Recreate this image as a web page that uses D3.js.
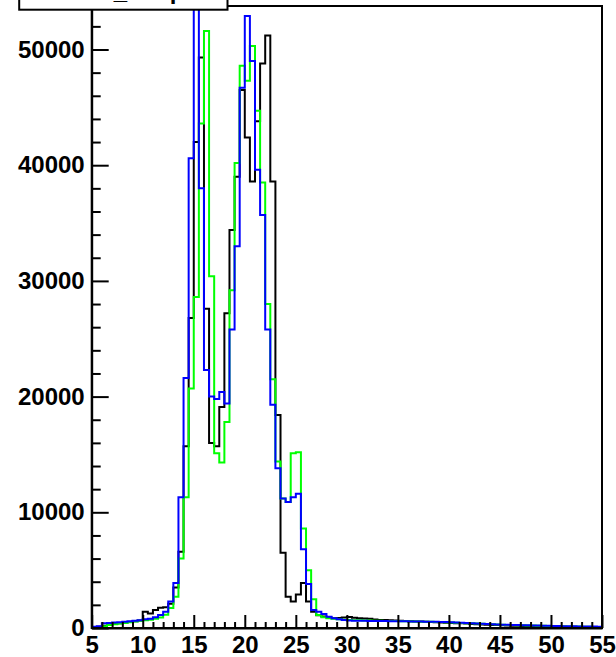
<!DOCTYPE html>
<html>
<head>
<meta charset="utf-8">
<script src="https://cdn.jsdelivr.net/npm/d3@7"></script>
<style>
  body { margin: 0; background: #fff; }
  svg { display: block; }
</style>
</head>
<body>
<svg id="chart" width="616" height="657"></svg>
<script>
// Histogram binning: 100 bins of 0.5 between 5 and 55
var xMin = 5, xMax = 55, binWidth = 0.5;

// Bin contents, one value per bin (5 - 55)
var blackCounts = [
  50, 100, 200, 280, 340, 400, 450, 520, 580, 640,               // 5 - 10
  1400, 1250, 1550, 1750, 1800, 2100, 3500, 6600, 15700, 26800,  // 10 - 15
  42000, 49300, 27600, 16000, 15700, 19100, 27200, 34400, 39000, 46500, // 15 - 20
  42400, 38600, 43800, 48800, 51200, 38600, 18400, 6500, 2700, 2300,   // 20 - 25
  2900, 3900, 2300, 1400, 1100, 1000, 900, 850, 860, 900,        // 25 - 30
  950, 880, 850, 820, 790, 740, 700, 690, 660, 640,              // 30 - 35
  620, 610, 590, 570, 560, 540, 520, 500, 480, 460,              // 35 - 40
  440, 420, 400, 380, 350, 330, 310, 290, 270, 250,              // 40 - 45
  230, 215, 200, 185, 170, 160, 150, 140, 130, 120,              // 45 - 50
  110, 105, 95, 90, 80, 75, 70, 65, 60, 55                       // 50 - 55
];

var greenCounts = [
  30, 80, 150, 250, 320, 380, 440, 500, 560, 620,
  680, 720, 800, 900, 1150, 1730, 2700, 6000, 11300, 20700,
  28600, 43600, 51600, 30400, 15100, 14300, 17800, 29200, 40200, 48600,
  47300, 50300, 44700, 38500, 28000, 21500, 14400, 11200, 10900, 15100,
  15200, 8600, 5000, 2480, 1120, 925, 840, 800, 760, 720,
  690, 670, 660, 650, 640, 630, 620, 615, 610, 600,
  590, 580, 570, 560, 550, 540, 530, 520, 510, 500,
  480, 460, 440, 420, 400, 380, 360, 340, 320, 300,
  280, 260, 250, 240, 230, 220, 210, 200, 190, 180,
  170, 160, 150, 140, 130, 120, 110, 100, 90, 80
];

var blueCounts = [
  100, 150, 400, 430, 470, 500, 540, 580, 620, 680,
  750, 800, 925, 1120, 1400, 2280, 3900, 11300, 21600, 40600,
  57000, 38000, 22300, 20000, 19800, 20400, 19400, 25800, 33000, 46700,
  52900, 49000, 39600, 35700, 25800, 19300, 13800, 11200, 10900, 11300,
  11600, 6800, 3800, 1560, 1400, 1210, 980, 840, 750, 690,
  640, 630, 625, 620, 610, 600, 610, 600, 590, 590,
  580, 575, 570, 560, 555, 550, 540, 530, 520, 510,
  490, 470, 450, 430, 410, 390, 370, 350, 330, 310,
  290, 280, 260, 250, 240, 230, 220, 210, 200, 190,
  180, 170, 160, 155, 150, 140, 130, 125, 120, 110
];

// Axis ticks and labels
var xMajorTicks = [5, 10, 15, 20, 25, 30, 35, 40, 45, 50, 55];
var yMajorTicks = [0, 10000, 20000, 30000, 40000, 50000];
var yMax = 53760;

var titleText = "Emiss_hadpt";

var svg = d3.select("#chart");
var font = "'Liberation Sans', Arial, Helvetica, sans-serif";

// Frame area (window.top is read-only, so use other names)
var frameLeft = 91.7, frameRight = 602, frameTop = 6, frameBottom = 628;

var x = d3.scaleLinear().domain([xMin, xMax]).range([frameLeft, frameRight]);
var y = d3.scaleLinear().domain([0, yMax]).range([frameBottom, frameTop]);

svg.append("rect").attr("width", 616).attr("height", 657).attr("fill", "#fff");

svg.append("defs").append("clipPath").attr("id", "frameClip")
  .append("rect")
  .attr("x", frameLeft).attr("y", frameTop)
  .attr("width", frameRight - frameLeft).attr("height", frameBottom - frameTop);

// Step line for one histogram
var binEdges = d3.range(xMin, xMax, binWidth);
var stepLine = d3.line()
  .x(function(d) { return x(d.edge); })
  .y(function(d) { return y(d.value); })
  .curve(d3.curveStepAfter);

function histPoints(counts) {
  var pts = [{edge: xMin, value: 0}];
  counts.forEach(function(v, i) { pts.push({edge: binEdges[i], value: v}); });
  pts.push({edge: xMax, value: counts[counts.length - 1]});
  return pts;
}

var series = [
  {name: "black", counts: blackCounts, color: "#000000"},
  {name: "green", counts: greenCounts, color: "#00ff00"},
  {name: "blue", counts: blueCounts, color: "#0000ff"}
];

svg.append("g")
  .attr("clip-path", "url(#frameClip)")
  .selectAll("path")
  .data(series)
  .enter()
  .append("path")
    .attr("d", function(d) { return stepLine(histPoints(d.counts)); })
    .attr("fill", "none")
    .attr("stroke", function(d) { return d.color; })
    .attr("stroke-width", 2);

// Frame (top and right sides)
svg.append("rect")
  .attr("x", frameLeft).attr("y", frameTop)
  .attr("width", frameRight - frameLeft).attr("height", frameBottom - frameTop)
  .attr("fill", "none")
  .attr("stroke", "#000")
  .attr("stroke-width", 2);

// Y axis: major and minor ticks pointing into the frame
var yMinorTicks = d3.range(0, yMax, 2000).filter(function(v) { return v % 10000 !== 0; });

svg.append("g")
  .attr("transform", "translate(" + frameLeft + ",0)")
  .call(d3.axisLeft(y).tickValues(yMinorTicks).tickSizeInner(-9).tickSizeOuter(0).tickFormat(""))
  .call(function(g) { g.select(".domain").remove(); });

var yAxis = svg.append("g")
  .attr("transform", "translate(" + frameLeft + ",0)")
  .call(d3.axisLeft(y).tickValues(yMajorTicks).tickSizeInner(-17).tickSizeOuter(0)
    .tickPadding(7).tickFormat(d3.format("d")));

// X axis: major every 5, minor every 1, ticks pointing up
var xMinorTicks = d3.range(xMin, xMax + 1, 1).filter(function(v) { return v % 5 !== 0; });

svg.append("g")
  .attr("transform", "translate(0," + frameBottom + ")")
  .call(d3.axisBottom(x).tickValues(xMinorTicks).tickSizeInner(-6).tickSizeOuter(0).tickFormat(""))
  .call(function(g) { g.select(".domain").remove(); });

var xAxis = svg.append("g")
  .attr("transform", "translate(0," + frameBottom + ")")
  .call(d3.axisBottom(x).tickValues(xMajorTicks).tickSizeInner(-13).tickSizeOuter(0)
    .tickPadding(8).tickFormat(d3.format("d")));

svg.selectAll(".domain, .tick line")
  .attr("stroke", "#000")
  .attr("stroke-width", 2);

[xAxis, yAxis].forEach(function(g) {
  g.attr("font-family", font).attr("font-size", 24).attr("font-weight", "bold");
  g.selectAll("text").attr("fill", "#000");
});

// Title box at the top, mostly outside the canvas
svg.append("rect")
  .attr("x", 19.2).attr("y", -30)
  .attr("width", 208.3).attr("height", 39.7)
  .attr("fill", "#fff")
  .attr("stroke", "#000")
  .attr("stroke-width", 2);

svg.append("text")
  .attr("x", 43).attr("y", -1.5)
  .attr("font-family", font)
  .attr("font-size", 24)
  .attr("font-weight", "bold")
  .attr("fill", "#000")
  .text(titleText);
</script>
</body>
</html>
